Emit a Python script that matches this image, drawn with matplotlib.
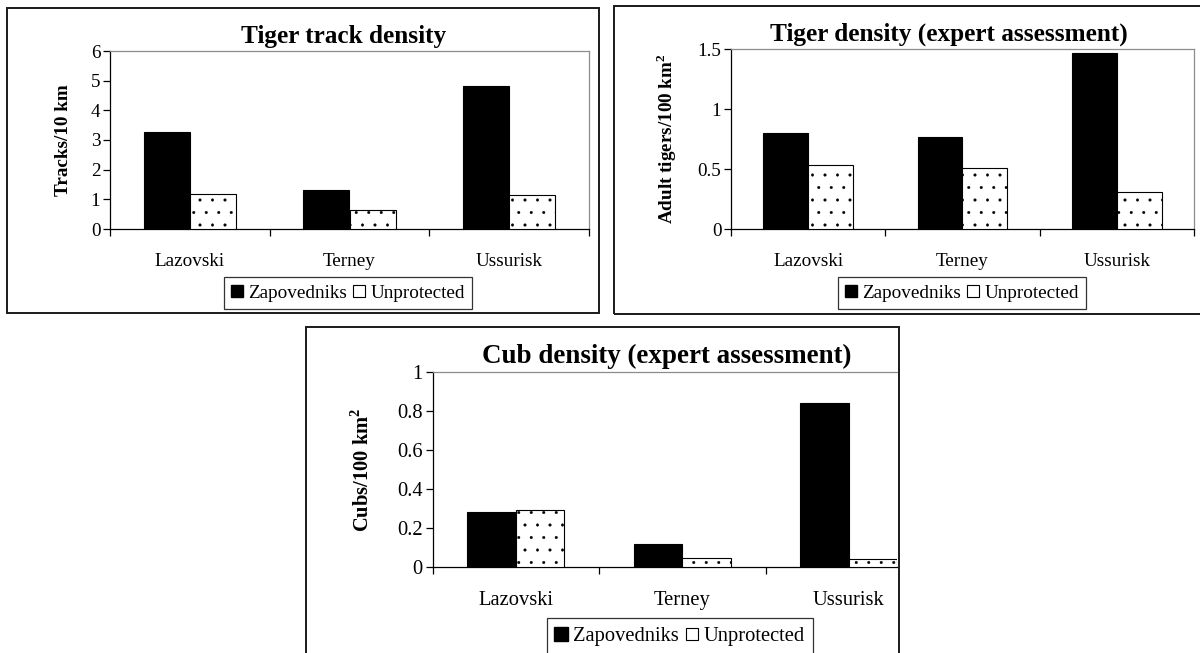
import matplotlib
matplotlib.use("Agg")
import matplotlib.pyplot as plt
import matplotlib.hatch as mhatch
from matplotlib.patches import Rectangle
from matplotlib.lines import Line2D
import numpy as np

# ---------------------------------------------------------------------------
# Data
# ---------------------------------------------------------------------------
SITES = ["Lazovski", "Terney", "Ussurisk"]
SERIES = ["Zapovedniks", "Unprotected"]

TRACKS_ZAP = [3.28, 1.30, 4.82]
TRACKS_UNP = [1.18, 0.64, 1.13]

ADULT_ZAP = [0.80, 0.765, 1.47]
ADULT_UNP = [0.53, 0.505, 0.31]

CUB_ZAP = [0.28, 0.117, 0.839]
CUB_UNP = [0.293, 0.048, 0.041]

TITLES = ["Tiger track density",
          "Tiger density (expert assessment)",
          "Cub density (expert assessment)"]
YLABELS = ["Tracks/10 km",
           r"Adult tigers/100 km$^{\mathbf{2}}$",
           r"Cubs/100 km$^{\mathbf{2}}$"]
YTICKS = [[0, 1, 2, 3, 4, 5, 6],
          [0, 0.5, 1, 1.5],
          [0, 0.2, 0.4, 0.6, 0.8, 1]]
YTICKLABELS = [["0", "1", "2", "3", "4", "5", "6"],
               ["0", "0.5", "1", "1.5"],
               ["0", "0.2", "0.4", "0.6", "0.8", "1"]]

# ---------------------------------------------------------------------------
# Style
# ---------------------------------------------------------------------------
W, H = 1200, 653
BORDER_GRAY = "#8c8c8c"

plt.rcParams.update({
    "font.family": ["Liberation Serif", "DejaVu Serif"],
    "mathtext.fontset": "custom",
    "mathtext.rm": "Liberation Serif",
    "mathtext.bf": "Liberation Serif:bold",
    "hatch.linewidth": 0.3,
    "hatch.color": "black",
})


# sparser dots than the stock '.' hatch (Excel-like "dotted" fill)
# num_rows must stay even for matplotlib's shape count
def _dots_init(self, hatch, density):
    self.num_rows = hatch.count(".") * 8
    mhatch.Circles.__init__(self, hatch, density)


mhatch.SmallFilledCircles.__init__ = _dots_init
mhatch.SmallFilledCircles.size = 0.1


def px_axes(fig, left, top, right, bottom):
    return fig.add_axes([left / W, 1 - bottom / H,
                         (right - left) / W, (bottom - top) / H])


def px_box(fig, left, top, right, bottom):
    fig.add_artist(Rectangle((left / W, 1 - bottom / H),
                             (right - left) / W, (bottom - top) / H,
                             transform=fig.transFigure, fill=False,
                             edgecolor="#1a1a1a", linewidth=1.4))


def panel(fig, rect, zap, unp, title, ylabel, yticks, yticklabels,
          xmax, title_xy, ylabel_x, legend_xy, scale=1.0, right_spine=True):
    ax = px_axes(fig, *rect)
    x = np.arange(len(SITES))
    w = 0.29
    ax.bar(x - w / 2, zap, width=w, color="black", edgecolor="black",
           linewidth=0.8, zorder=3)
    ax.bar(x + w / 2, unp, width=w, color="white", edgecolor="black",
           linewidth=0.8, hatch=".", zorder=3)

    fs = 13.8 * scale
    ax.set_xlim(-0.5, xmax)
    ax.set_ylim(yticks[0], yticks[-1])
    ax.set_yticks(yticks)
    ax.set_yticklabels(yticklabels, fontsize=fs)
    ax.set_xticks(x)
    ax.set_xticklabels(SITES, fontsize=fs)
    ax.set_xticks(np.arange(-0.5, xmax + 0.01, 1.0), minor=True)
    ax.tick_params(axis="x", which="major", length=0, pad=17)
    ax.tick_params(axis="x", which="minor", length=5, width=0.9,
                   direction="out")
    ax.tick_params(axis="y", length=5, width=0.9, direction="out", pad=2)

    for s in ("left", "bottom"):
        ax.spines[s].set_color("black")
        ax.spines[s].set_linewidth(0.9)
    for s in ("top", "right"):
        ax.spines[s].set_color(BORDER_GRAY)
        ax.spines[s].set_linewidth(0.9)
    ax.spines["right"].set_visible(right_spine)

    fig.text(title_xy[0] / W, 1 - title_xy[1] / H, title,
             fontsize=18.2 * scale, fontweight="bold",
             ha="center", va="center")
    ax.set_ylabel(ylabel, fontsize=13.8 * scale, fontweight="bold")
    ax.yaxis.set_label_coords((ylabel_x - rect[0]) / (rect[2] - rect[0]), 0.5)

    handles = [Line2D([], [], marker="s", linestyle="none", markersize=9 * scale,
                      markerfacecolor="black", markeredgecolor="black"),
               Line2D([], [], marker="s", linestyle="none", markersize=8.5 * scale,
                      markerfacecolor="white", markeredgecolor="black",
                      markeredgewidth=0.8)]
    leg = fig.legend(handles, SERIES, loc="center",
                     bbox_to_anchor=(legend_xy[0] / W, 1 - legend_xy[1] / H),
                     ncol=2, fontsize=fs, frameon=True, fancybox=False,
                     edgecolor="black", handlelength=0.6, handletextpad=0.3,
                     columnspacing=0.3, borderpad=0.4, borderaxespad=0)
    leg.get_frame().set_linewidth(0.9)
    return ax


def main():
    fig = plt.figure(figsize=(W / 100, H / 100), dpi=100)
    fig.patch.set_facecolor("white")

    # panel boxes
    px_box(fig, 7, 8, 599, 313)
    px_box(fig, 614, 6, 1215, 314)
    px_box(fig, 306, 327, 899, 660)

    panel(fig, (110, 51, 589, 229), TRACKS_ZAP, TRACKS_UNP, TITLES[0],
          YLABELS[0], YTICKS[0], YTICKLABELS[0], 2.5,
          title_xy=(344, 36), ylabel_x=72, legend_xy=(348, 293))
    panel(fig, (731, 49, 1194, 229), ADULT_ZAP, ADULT_UNP, TITLES[1],
          YLABELS[1], YTICKS[1], YTICKLABELS[1], 2.5,
          title_xy=(949, 34), ylabel_x=679, legend_xy=(962, 293))
    # third chart is cut off at the right by its frame
    panel(fig, (432.5, 372, 897, 567), CUB_ZAP, CUB_UNP, TITLES[2],
          YLABELS[2], YTICKS[2], YTICKLABELS[2], -0.5 + 3 * 464.5 / 499.5,
          title_xy=(667, 356), ylabel_x=374, legend_xy=(680, 636),
          scale=1.07, right_spine=False)

    fig.savefig("out.png", dpi=100, facecolor="white")
    plt.close(fig)


if __name__ == "__main__":
    main()
